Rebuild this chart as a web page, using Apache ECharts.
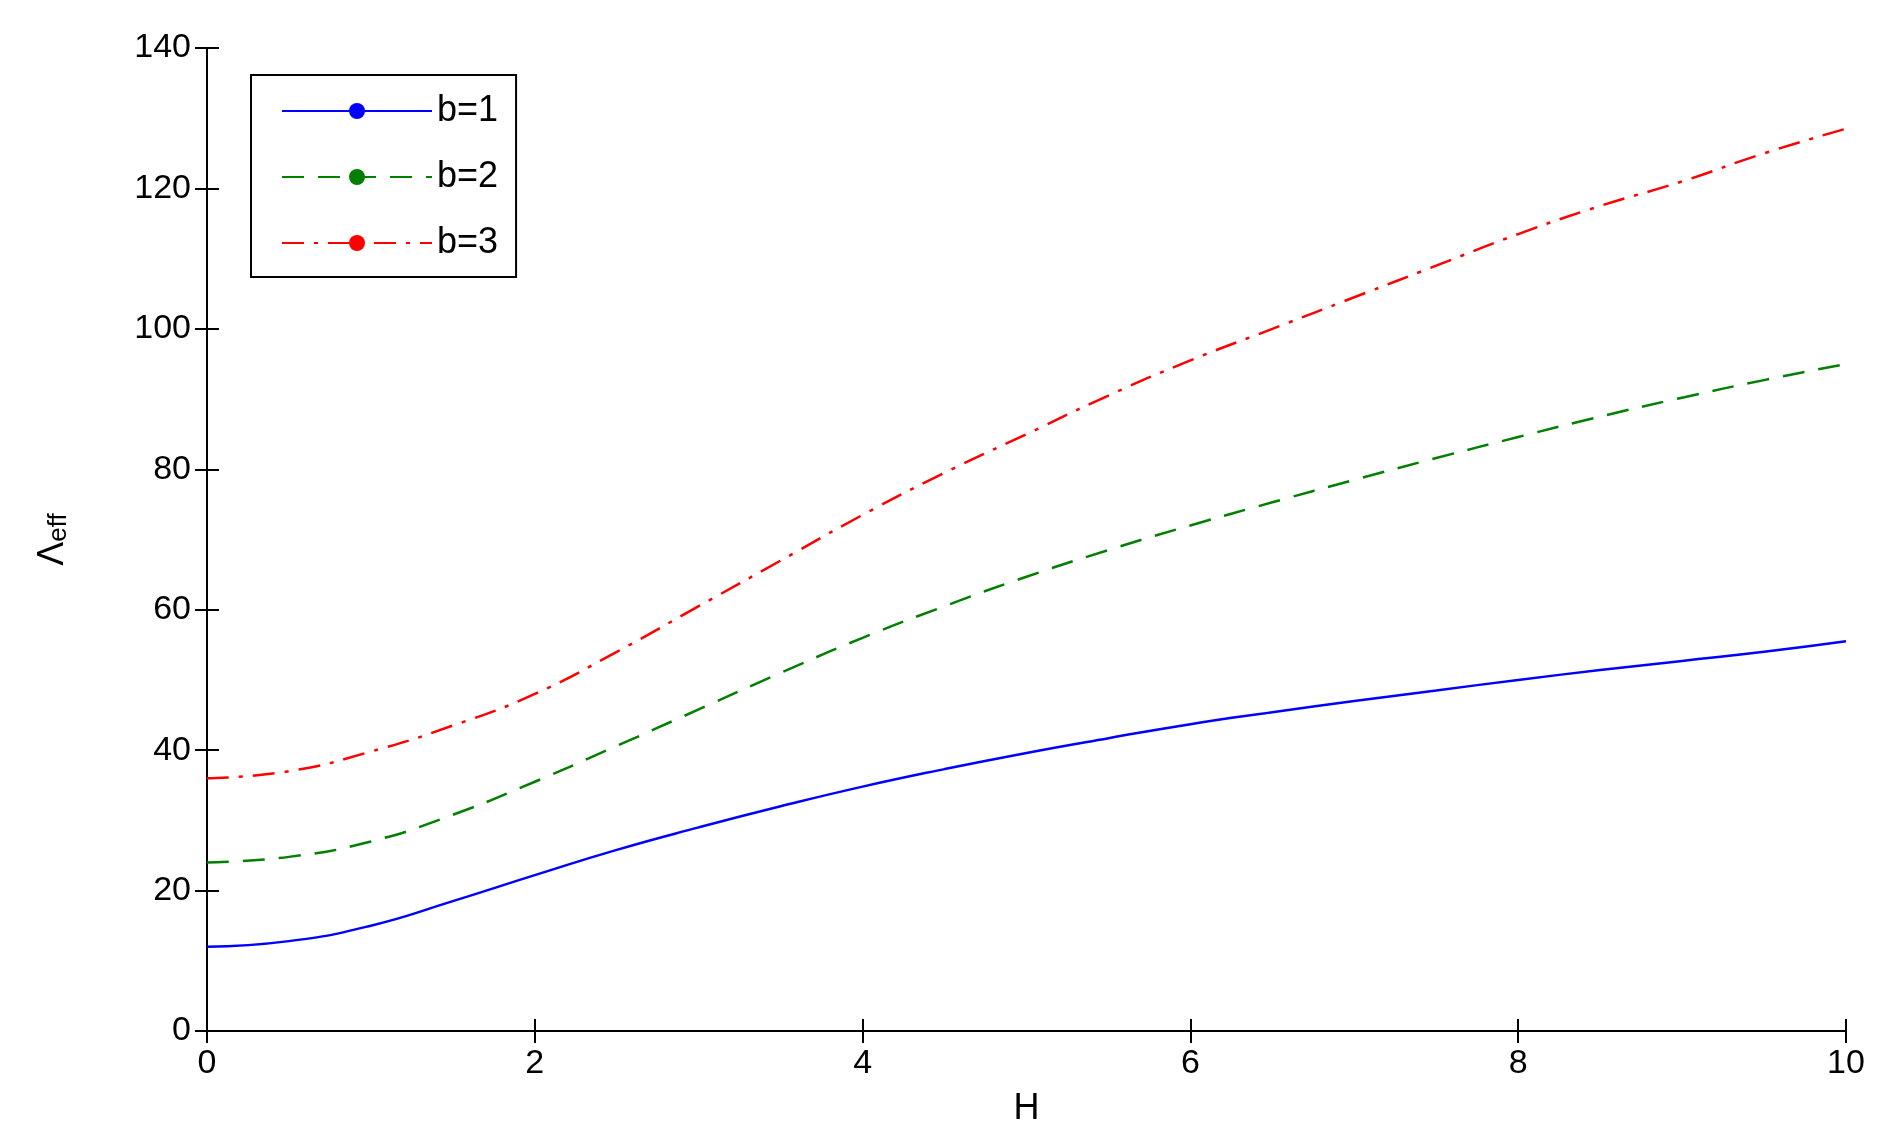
<!DOCTYPE html>
<html><head><meta charset="utf-8">
<script src="https://cdn.jsdelivr.net/npm/echarts@6/dist/echarts.min.js"></script>
<style>html,body{margin:0;padding:0;background:#fff}#c{width:1881px;height:1142px}</style>
</head><body><div id="c"></div>
<script>
const H = [0,0.5,1,1.5,2,2.5,3,3.5,4,4.5,5,5.5,6,6.5,7,7.5,8,8.5,9,9.5,10];
const b1 = [12,12.8,15,18.5,22.2,25.8,29,32,34.8,37.3,39.6,41.7,43.7,45.4,47,48.5,50,51.4,52.7,54,55.5];
const b2 = [24,24.8,27,30.8,35.5,40.6,45.8,51,56,60.5,64.7,68.5,72,75.3,78.5,81.6,84.6,87.5,90.2,92.7,95];
const b3 = [36,37,39.8,43.5,48,54,60.5,67,73.5,79.5,85,90.5,95.5,100,104.5,109,113.5,117.5,121,125,128.5];
const names = ['b=1','b=2','b=3'];
const font = 'Liberation Sans';
const pair = a => H.map((h,i)=>[h,a[i]]);
const line = {show:true,lineStyle:{color:'#000',width:2}};
const tick = {show:true,inside:true,length:12,lineStyle:{color:'#000',width:2}};
const lbl = {show:true,color:'#000',fontSize:34,fontFamily:font,margin:16};
const chart = echarts.init(document.getElementById('c'));
chart.setOption({
  animation:false,
  grid:{left:207,right:35,top:48,bottom:111},
  legend:{
    show:true,orient:'vertical',left:251,top:75,
    data:names,
    borderColor:'#000',borderWidth:2,padding:[18,18,16,30],
    itemWidth:150,itemHeight:20,itemGap:30,
    textStyle:{fontSize:36,fontFamily:font,color:'#000'}
  },
  xAxis:[
    {type:'value',min:0,max:10,interval:2,name:'H',nameLocation:'middle',nameGap:60,
      nameTextStyle:{fontSize:36,fontFamily:font,color:'#000'},
      axisLine:line,axisTick:tick,axisLabel:lbl,splitLine:{show:false}},
    {type:'value',min:0,max:10,interval:2,position:'top',
      axisLine:line,axisTick:tick,axisLabel:{show:false},splitLine:{show:false}}
  ],
  yAxis:[
    {type:'value',min:0,max:140,interval:20,name:'{a|Λ}{b|eff}',nameLocation:'middle',nameGap:135,nameRotate:90,
      nameTextStyle:{rich:{a:{fontSize:36,fontFamily:font,color:'#000'},b:{fontSize:26,fontFamily:font,color:'#000',padding:[12,0,0,0]}}},
      axisLine:line,axisTick:tick,axisLabel:lbl,splitLine:{show:false}},
    {type:'value',min:0,max:140,interval:20,position:'right',
      axisLine:line,axisTick:tick,axisLabel:{show:false},splitLine:{show:false}}
  ],
  series:[
    {name:names[0],type:'line',data:pair(b1),smooth:true,showSymbol:false,symbol:'none',lineStyle:{color:'#0000ff',width:2.5,type:'solid'},itemStyle:{color:'#0000ff'}},
    {name:names[1],type:'line',data:pair(b2),smooth:true,showSymbol:false,symbol:'none',lineStyle:{color:'#007f00',width:2.5,type:[22,14]},itemStyle:{color:'#007f00'}},
    {name:names[2],type:'line',data:pair(b3),smooth:true,showSymbol:false,symbol:'none',lineStyle:{color:'#ff0000',width:2.5,type:[22,10,4,10]},itemStyle:{color:'#ff0000'}}
  ]
});
</script></body></html>
